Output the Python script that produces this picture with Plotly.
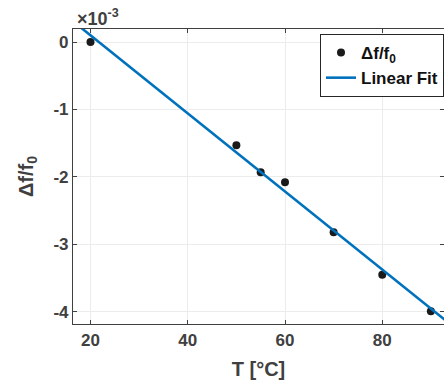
import numpy as np
import plotly.graph_objects as go

# Data (Δf/f0 in units of 1e-3)
temperature_c = [20, 50, 55, 60, 70, 80, 90]
df_over_f0_e3 = [0.0, -1.53, -1.93, -2.08, -2.82, -3.45, -3.99]

x_ticks = [20, 40, 60, 80]
y_ticks = [0, -1, -2, -3, -4]
y_tick_labels = ["0", "-1", "-2", "-3", "-4"]

# Linear fit from the data
slope, intercept = np.polyfit(temperature_c, df_over_f0_e3, 1)
fit_x = np.array([15.0, 95.0])
fit_y = slope * fit_x + intercept

axis_color = "#404040"
font_family = "Liberation Sans, Arial, sans-serif"

fig = go.Figure()
fig.add_trace(go.Scatter(
    x=temperature_c, y=df_over_f0_e3, mode="markers",
    name="Δf/f<sub>0</sub>",
    marker=dict(color="#1a1a1a", size=8, line=dict(width=0)),
))
fig.add_trace(go.Scatter(
    x=fit_x, y=fit_y, mode="lines", name="Linear Fit",
    line=dict(color="#0072BD", width=2.6),
))

fig.update_layout(
    width=444, height=384,
    margin=dict(l=73, r=0, t=29, b=60, autoexpand=False),
    paper_bgcolor="white", plot_bgcolor="white",
    font=dict(family=font_family, size=17, color=axis_color, weight="bold"),
    showlegend=True,
    legend=dict(
        x=1, xanchor="right", y=0.983, yanchor="top",
        bgcolor="white", bordercolor="#262626", borderwidth=1,
        font=dict(size=17, color="#111111", weight="bold"),
        itemwidth=30, tracegroupgap=0,
    ),
    xaxis=dict(
        range=[16.4, 92.7], tickvals=x_ticks, automargin=False,
        showline=True, linecolor=axis_color, linewidth=1.2, mirror="ticks",
        ticks="inside", ticklen=4, tickcolor=axis_color,
        showgrid=True, gridcolor="#ececec", gridwidth=1, zeroline=False,
        title=dict(text="T [°C]", font=dict(size=20, weight="bold"), standoff=13),
    ),
    yaxis=dict(
        range=[-4.18, 0.193], tickvals=y_ticks, ticktext=y_tick_labels,
        automargin=False,
        showline=True, linecolor=axis_color, linewidth=1.2, mirror="ticks",
        ticks="inside", ticklen=4, tickcolor=axis_color,
        showgrid=True, gridcolor="#ececec", gridwidth=1, zeroline=False,
        title=dict(text="Δf/f<sub>0</sub>", font=dict(size=20, weight="bold"), standoff=14),
    ),
    annotations=[dict(
        text="×10<sup>-3</sup>", xref="paper", yref="paper",
        x=0, y=1, xanchor="left", yanchor="bottom", showarrow=False,
        font=dict(size=18, color=axis_color, weight="bold"), xshift=2, yshift=-2,
    )],
)

fig.write_html(
    "out.html",
    config={"displayModeBar": False},
    post_script="document.body.style.margin='0px';document.body.style.overflow='hidden';",
)
